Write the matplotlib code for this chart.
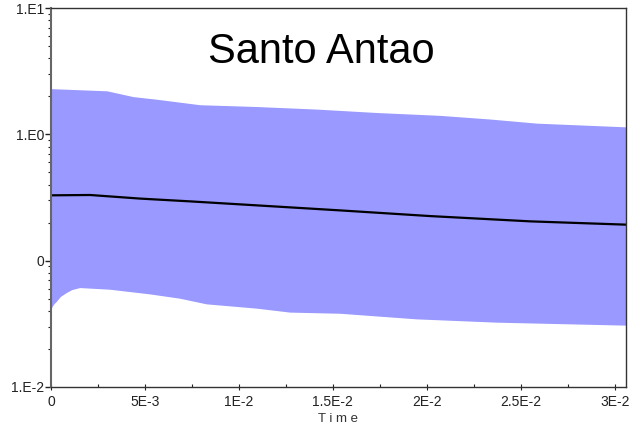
import numpy as np
import matplotlib
matplotlib.use('Agg')
from matplotlib import pyplot as plt
from matplotlib.ticker import FixedLocator, LogLocator, NullFormatter

# band upper edge
up_t = [0, 0.0030, 0.0044, 0.00563, 0.00794, 0.01096, 0.01415, 0.01735, 0.02072, 0.02338, 0.02587, 0.0306]
up_v = [2.28, 2.19, 1.97, 1.88, 1.70, 1.645, 1.57, 1.475, 1.40, 1.31, 1.215, 1.136]
# band lower edge
lo_t = [0, 0.00003, 0.0001, 0.0002, 0.0003, 0.00053, 0.00084, 0.00112, 0.00155, 0.00314, 0.00527,
        0.00687, 0.00829, 0.01096, 0.01273, 0.01539, 0.01948, 0.02374, 0.0306]
lo_v = [0.0392, 0.0410, 0.0434, 0.0455, 0.0470, 0.0517, 0.0554, 0.0584, 0.0607, 0.0589, 0.0541,
        0.0500, 0.0451, 0.0417, 0.0388, 0.0380, 0.0343, 0.0323, 0.0306]
# mean line
mid_t = [0, 0.00208, 0.00474, 0.0074, 0.01007, 0.01539, 0.02018, 0.02551, 0.0306]
mid_v = [0.329, 0.331, 0.310, 0.2947, 0.279, 0.250, 0.2254, 0.2047, 0.1928]

xticks = [0, 0.005, 0.01, 0.015, 0.02, 0.025, 0.03]
xlabels = ['0', '5E-3', '1E-2', '1.5E-2', '2E-2', '2.5E-2', '3E-2']
yticks = [0.01, 0.1, 1, 10]
ylabels = ['1.E-2', '0', '1.E0', '1.E1']

plt.rcParams['font.family'] = ['Liberation Sans', 'DejaVu Sans']
fig = plt.figure(figsize=(6.32, 4.32), dpi=100)
ax = fig.add_axes([51/632, 1-387/432, 575/632, 379/432])

# polygon of the band: upper edge then lower edge backwards
px = np.concatenate([up_t, lo_t[::-1]])
py = np.concatenate([up_v, lo_v[::-1]])
ax.fill(px, py, color='#9999ff', lw=0)
ax.plot(mid_t, mid_v, color='black', lw=1.6)

ax.set_yscale('log')
ax.set_xlim(0, 0.0306)
ax.set_ylim(0.01, 10)
ax.yaxis.set_major_locator(FixedLocator(yticks))
ax.set_yticklabels(ylabels, fontsize=10)
ax.yaxis.set_minor_locator(LogLocator(base=10, subs=np.arange(2, 10)))
ax.yaxis.set_minor_formatter(NullFormatter())
ax.set_xticks(xticks)
ax.set_xticklabels(xlabels, fontsize=10)
ax.set_xticks(np.arange(0.0025, 0.0306, 0.005), minor=True)

ax.tick_params(axis='y', which='major', direction='out', length=4, width=1, pad=1, colors='#222')
ax.tick_params(axis='y', which='minor', direction='out', length=2.5, width=0.8, colors='#222')
ax.tick_params(axis='x', which='major', direction='inout', length=4, width=0.8, pad=4, colors='#222')
ax.tick_params(axis='x', which='minor', direction='in', length=2, width=0.8, colors='#222')
for s in ax.spines.values():
    s.set_color('#333')
    s.set_linewidth(1)
ax.spines['left'].set_color('#666')
ax.spines['left'].set_linewidth(1.5)

ax.set_xlabel('T i m e', fontsize=9.5, color='#333', labelpad=3)
ax.text(0.47, 0.885, 'Santo Antao', transform=ax.transAxes, ha='center', va='center',
        fontsize=30, color='black')

fig.savefig('out.png', dpi=100)
